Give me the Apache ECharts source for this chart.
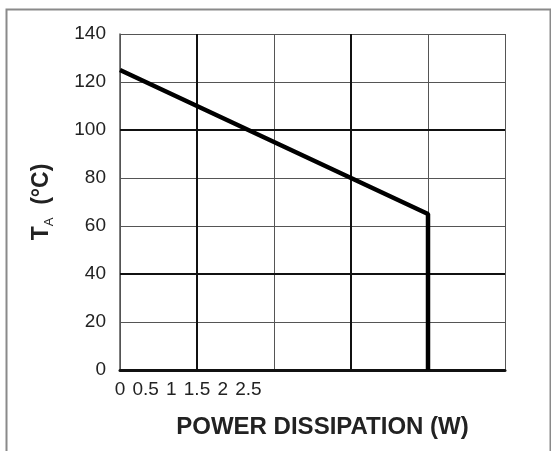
<!DOCTYPE html>
<html>
<head>
<meta charset="utf-8">
<script src="https://cdn.jsdelivr.net/npm/echarts@6/dist/echarts.min.js"></script>
<style>html,body{margin:0;padding:0;background:#fff;}#c{width:551px;height:451px;}</style>
</head>
<body>
<div id="c"></div>
<script>
// Data
var curveX = [0, 4, 4];
var curveY = [125, 65, 0];
var tickLabels = ['0', '0.5', '1', '1.5', '2', '2.5'];
var thickY = [40, 100];
var thickX = [1, 3];
var xTitle = 'POWER DISSIPATION (W)';

var chart = echarts.init(document.getElementById('c'), null, {renderer: 'canvas'});
var font = 'Liberation Sans, Arial, sans-serif';
var pts = curveX.map(function (x, i) { return [x, curveY[i]]; });
var markData = thickY.map(function (v) { return {yAxis: v}; })
  .concat(thickX.map(function (v) { return {xAxis: v}; }));

chart.setOption({
  animation: false,
  backgroundColor: '#fff',
  graphic: [{
    type: 'rect', left: 4, top: 7, silent: true,
    shape: {width: 544, height: 460},
    style: {fill: 'none', stroke: '#8a8a8a', lineWidth: 2}
  }],
  grid: {left: 120, right: 46, top: 34, bottom: 81},
  xAxis: [{
    type: 'value', min: 0, max: 5, interval: 1,
    axisLine: {show: true, lineStyle: {color: '#111', width: 3}},
    axisTick: {show: false},
    axisLabel: {show: false},
    splitLine: {show: true, lineStyle: {color: '#555', width: 1}},
    name: xTitle, nameLocation: 'middle', nameGap: 45,
    nameTextStyle: {fontFamily: font, fontWeight: 'bold', fontSize: 24, color: '#222', padding: [0, 0, 0, 20]}
  }, {
    type: 'value', min: 0, max: 15, interval: 1, position: 'bottom',
    axisLine: {show: false}, axisTick: {show: false}, splitLine: {show: false},
    axisLabel: {
      show: true, margin: 10, fontFamily: font, fontSize: 19, color: '#222',
      formatter: function (v) { return v < tickLabels.length ? tickLabels[v] : ''; }
    }
  }],
  yAxis: {
    type: 'value', min: 0, max: 140, interval: 20,
    axisLine: {show: true, lineStyle: {color: '#555', width: 1.5}},
    axisTick: {show: false},
    axisLabel: {margin: 14, fontFamily: font, fontSize: 19, color: '#222'},
    splitLine: {show: true, lineStyle: {color: '#555', width: 1}},
    name: '{t|T}{s|A}{t|  (°C)}', nameLocation: 'middle', nameGap: 67, nameRotate: 90,
    nameTextStyle: {
      rich: {
        t: {fontFamily: font, fontWeight: 'bold', fontSize: 23, color: '#222', lineHeight: 28, verticalAlign: 'bottom'},
        s: {fontFamily: font, fontWeight: 'normal', fontSize: 13, color: '#222', lineHeight: 28, verticalAlign: 'bottom', padding: [0, 0, -3, 0]}
      }
    }
  },
  series: [{
    type: 'line', xAxisIndex: 0, data: pts, symbol: 'none',
    lineStyle: {color: '#000', width: 4.5}, z: 5,
    markLine: {
      silent: true, symbol: 'none', label: {show: false},
      lineStyle: {color: '#111', width: 2, type: 'solid'},
      data: markData
    }
  }]
});
</script>
</body>
</html>
